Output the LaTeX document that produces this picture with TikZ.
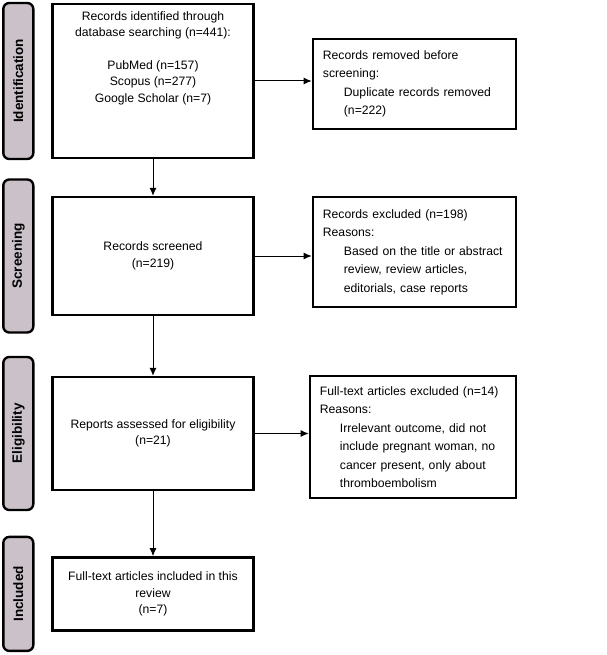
\documentclass[tikz,border=0pt]{standalone}
\usepackage{fontspec}
\setmainfont{Liberation Sans}
\usepackage{xcolor}
\usetikzlibrary{arrows.meta, positioning}
\definecolor{phase}{RGB}{203,193,200}

\begin{document}
\begin{tikzpicture}[
  x=1pt, y=1pt,
  node distance=36pt and 57pt,
  every node/.style={font=\fontsize{12.2}{16.5}\selectfont},
  mainbox/.style={
    rectangle, draw=black, line width=2.4pt,
    minimum width=201pt, align=center,
  },
  notebox/.style={
    rectangle, draw=black, line width=2.4pt,
    text width=183pt, inner xsep=10pt, align=left,
    font=\fontsize{12.2}{18.5}\selectfont,
  },
  phasebox/.style={
    rectangle, rounded corners=6pt,
    draw=black, line width=2.4pt, fill=phase,
    minimum height=30pt, rotate=90,
    font=\fontsize{13.5}{16}\selectfont\bfseries,
  },
  flow/.style={-{Latex[length=8pt, width=7pt]}, line width=1pt},
]
  \useasboundingbox (0,0) rectangle (606,-655);

  % main column
  \node[mainbox, minimum height=154pt] (ident) at (153,-81) {};
  \node[below=5pt of ident.north, align=center] (identtext)
    {Records identified through\\database searching (n=441):\\[16pt]PubMed (n=157)\\Scopus (n=277)\\Google Scholar (n=7)};
  \node[mainbox, minimum height=118pt, below=36.6pt of ident] (screened) {Records screened\\(n=219)};
  \node[mainbox, minimum height=113pt, below=59.6pt of screened] (assessed) {Reports assessed for eligibility\\(n=21)};
  \node[mainbox, minimum height=73pt, below=65pt of assessed] (included) {Full-text articles included in this\\review\\(n=7)};

  % exclusions
  \node[notebox, minimum height=90pt, right=57pt of ident, yshift=-3pt] (removed)
    {Records removed before\\screening:\\\hspace*{21pt}Duplicate records removed\\\hspace*{21pt}(n=222)};
  \node[notebox, minimum height=110pt, right=57pt of screened, yshift=4pt] (excluded)
    {Records excluded (n=198)\\Reasons:\\\hspace*{21pt}Based on the title or abstract\\\hspace*{21pt}review, review articles,\\\hspace*{21pt}editorials, case reports};
  \node[notebox, text width=186pt, minimum height=122pt, right=54pt of assessed, yshift=-3.5pt] (ftexcluded)
    {Full-text articles excluded (n=14)\\Reasons:\\\hspace*{20pt}Irrelevant outcome, did not\\\hspace*{20pt}include pregnant woman, no\\\hspace*{20pt}cancer present, only about\\\hspace*{20pt}thromboembolism};

  % phase labels
  \node[phasebox, minimum width=156pt] (phident) at ([xshift=-33pt]ident.west) {Identification};
  \node[phasebox, minimum width=153pt] (phscreen) at ([xshift=-33pt]screened.west) {Screening};
  \node[phasebox, minimum width=153pt] (phelig) at ([xshift=-33pt]assessed.west) {Eligibility};
  \node[phasebox, minimum width=114pt] (phincl) at ([xshift=-33pt]included.west) {Included};

  \draw[flow] (ident) -- (screened);
  \draw[flow] (screened) -- (assessed);
  \draw[flow] (assessed) -- (included);
  \draw[flow] (ident.east) -- (ident.east -| removed.west);
  \draw[flow] (screened.east) -- (screened.east -| excluded.west);
  \draw[flow] (assessed.east) -- (assessed.east -| ftexcluded.west);
\end{tikzpicture}
\end{document}
